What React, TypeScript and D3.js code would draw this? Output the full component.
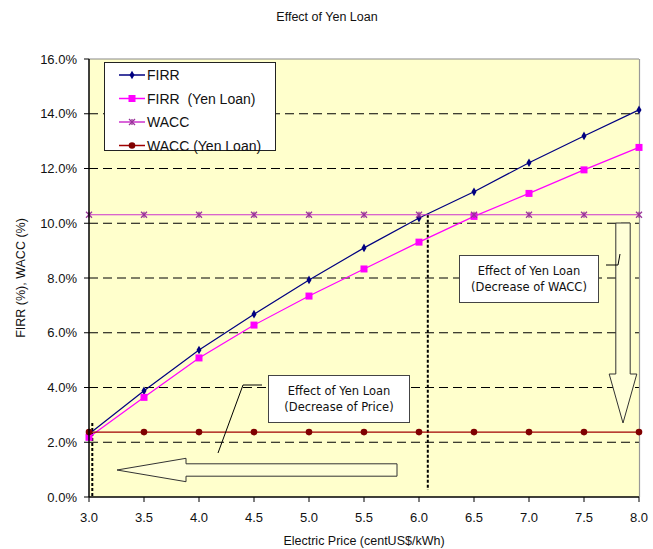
import React from "react";
import * as d3 from "d3";

const prices = [3.0, 3.5, 4.0, 4.5, 5.0, 5.5, 6.0, 6.5, 7.0, 7.5, 8.0];
const firr = [2.3, 3.88, 5.37, 6.68, 7.93, 9.1, 10.19, 11.15, 12.21, 13.19, 14.14];
const firrYen = [2.18, 3.64, 5.08, 6.28, 7.34, 8.33, 9.31, 10.25, 11.09, 11.95, 12.77];
const wacc = [10.31, 10.31, 10.31, 10.31, 10.31, 10.31, 10.31, 10.31, 10.31, 10.31, 10.31];
const waccYen = [2.37, 2.37, 2.37, 2.37, 2.37, 2.37, 2.37, 2.37, 2.37, 2.37, 2.37];
const yTicks = [0, 2, 4, 6, 8, 10, 12, 14, 16];
const xTicks = [3.0, 3.5, 4.0, 4.5, 5.0, 5.5, 6.0, 6.5, 7.0, 7.5, 8.0];
const seriesNames = ["FIRR", "FIRR  (Yen Loan)", "WACC", "WACC (Yen Loan)"];

// Break-even prices where FIRR meets WACC
const breakEvenYen = 3.03;
const breakEven = 6.08;

const W = 653;
const H = 549;
const left = 89;
const right = 639;
const top = 59;
const bottom = 497;
const FONT = "'Liberation Sans', Arial, sans-serif";
const NOTE_FONT = "'DejaVu Sans', sans-serif";

export default function App() {
  const x = d3.scaleLinear().domain([3, 8]).range([left, right]);
  const y = d3.scaleLinear().domain([0, 16]).range([bottom, top]);
  const line = d3
    .line<number>()
    .x((_, i) => x(prices[i]))
    .y((d) => y(d));

  const diamond = d3.symbol(d3.symbolDiamond, 22)()!;

  const marker = (kind: string, cx: number, cy: number, color: string, key: string) => {
    if (kind === "diamond")
      return <path key={key} d={diamond} transform={`translate(${cx},${cy})`} fill={color} />;
    if (kind === "square")
      return <rect key={key} x={cx - 3.5} y={cy - 3.5} width={7} height={7} fill={color} />;
    if (kind === "x")
      return (
        <g key={key} stroke={color} strokeWidth={1.3}>
          <line x1={cx - 3} y1={cy - 3} x2={cx + 3} y2={cy + 3} />
          <line x1={cx - 3} y1={cy + 3} x2={cx + 3} y2={cy - 3} />
          <line x1={cx} y1={cy - 3} x2={cx} y2={cy + 3} />
        </g>
      );
    return <circle key={key} cx={cx} cy={cy} r={3.3} fill={color} />;
  };

  const series = [
    { name: seriesNames[0], data: firr, color: "#000080", mcolor: "#000080", kind: "diamond" },
    { name: seriesNames[1], data: firrYen, color: "#FF00FF", mcolor: "#FF00FF", kind: "square" },
    { name: seriesNames[2], data: wacc, color: "#CC33CC", mcolor: "#993399", kind: "x" },
    { name: seriesNames[3], data: waccYen, color: "#A00000", mcolor: "#800000", kind: "circle" },
  ];

  // Left-pointing arrow (price decrease)
  const la = { tipX: 117, tipY: 470, headX: 186, headHalf: 11.7, shaftHalf: 6.2, endX: 397 };
  const leftArrow = [
    [la.tipX, la.tipY],
    [la.headX, la.tipY - la.headHalf],
    [la.headX, la.tipY - la.shaftHalf],
    [la.endX, la.tipY - la.shaftHalf],
    [la.endX, la.tipY + la.shaftHalf],
    [la.headX, la.tipY + la.shaftHalf],
    [la.headX, la.tipY + la.headHalf],
  ];
  // Downward arrow (WACC decrease)
  const da = { cx: 623, topY: 223, headY: 374, tipY: 423, shaftHalf: 7.2, headHalf: 13.8 };
  const downArrow = [
    [da.cx - da.shaftHalf, da.topY],
    [da.cx + da.shaftHalf, da.topY],
    [da.cx + da.shaftHalf, da.headY],
    [da.cx + da.headHalf, da.headY],
    [da.cx, da.tipY],
    [da.cx - da.headHalf, da.headY],
    [da.cx - da.shaftHalf, da.headY],
  ];
  const poly = (pts: number[][]) => pts.map((p) => p.join(",")).join(" ");

  return (
    <svg width={W} height={H} style={{ display: "block", position: "absolute", left: 0, top: 0 }} fontFamily={FONT}>
      <rect width={W} height={H} fill="#ffffff" />
      <text x={327} y={21} textAnchor="middle" fontSize={12.5} fill="#111">
        Effect of Yen Loan
      </text>

      {/* plot area */}
      <rect x={left} y={top} width={right - left} height={bottom - top} fill="#FFFFCC" />
      {yTicks.slice(1, -1).map((t) => (
        <line key={t} x1={left} x2={right} y1={y(t)} y2={y(t)} stroke="#000" strokeWidth={1} strokeDasharray="9,5" />
      ))}
      <line x1={left} x2={right} y1={top} y2={top} stroke="#888" strokeWidth={1} />
      <line x1={right + 0.5} x2={right + 0.5} y1={top} y2={bottom} stroke="#999" strokeWidth={1.2} />

      {/* break-even markers */}
      <line x1={x(breakEvenYen)} x2={x(breakEvenYen)} y1={423} y2={bottom} stroke="#000" strokeWidth={2} strokeDasharray="3,2" />
      <line x1={x(breakEven)} x2={x(breakEven)} y1={y(10.31)} y2={490} stroke="#000" strokeWidth={2} strokeDasharray="3,2" />

      {/* series */}
      {series.map((s) => (
        <g key={s.name}>
          <path d={line(s.data)!} fill="none" stroke={s.color} strokeWidth={1.2} />
          {s.data.map((v, i) => marker(s.kind, x(prices[i]), y(v), s.mcolor, `${s.name}-${i}`))}
        </g>
      ))}

      {/* arrows */}
      <polygon points={poly(leftArrow)} fill="#FFFFD8" stroke="#333" strokeWidth={1} />
      <polygon points={poly(downArrow)} fill="#FFFFD8" stroke="#333" strokeWidth={1} />

      {/* annotation callouts */}
      <g fontFamily={NOTE_FONT} fontSize={11.5} fill="#111">
        <polyline points="262,385 243,385 218,453" fill="none" stroke="#000" strokeWidth={1} />
        <rect x={268.5} y={375.5} width={141} height={47} fill="#fff" stroke="#444" strokeWidth={1} />
        <text x={339} y={395} textAnchor="middle">Effect of Yen Loan</text>
        <text x={339} y={411} textAnchor="middle">(Decrease of Price)</text>

        <polyline points="606,265 618,265 620,254" fill="none" stroke="#000" strokeWidth={1} />
        <rect x={459.5} y={255.5} width={139} height={47} fill="#fff" stroke="#444" strokeWidth={1} />
        <text x={529} y={275} textAnchor="middle">Effect of Yen Loan</text>
        <text x={529} y={291} textAnchor="middle">(Decrease of WACC)</text>
      </g>

      {/* axes */}
      <line x1={left} x2={left} y1={top} y2={bottom} stroke="#000" strokeWidth={1.5} />
      <line x1={left} x2={right} y1={bottom} y2={bottom} stroke="#000" strokeWidth={1.5} />
      {yTicks.map((t) => (
        <g key={t}>
          <line x1={left - 5} x2={left} y1={y(t)} y2={y(t)} stroke="#000" />
          <text x={77} y={y(t) + 4.5} textAnchor="end" fontSize={13} fill="#111">
            {d3.format(".1f")(t)}%
          </text>
        </g>
      ))}
      {xTicks.map((t) => (
        <g key={t}>
          <line x1={x(t)} x2={x(t)} y1={bottom} y2={bottom + 5} stroke="#000" />
          <text x={x(t)} y={522} textAnchor="middle" fontSize={13} fill="#111">
            {d3.format(".1f")(t)}
          </text>
        </g>
      ))}
      <text x={364} y={545} textAnchor="middle" fontSize={12.5} fill="#111">
        Electric Price (centUS$/kWh)
      </text>
      <text transform="translate(25,278) rotate(-90)" textAnchor="middle" fontSize={12.5} fill="#111">
        FIRR (%), WACC (%)
      </text>

      {/* legend */}
      <rect x={104.5} y={62.5} width={171} height={88} fill="#fff" stroke="#222" strokeWidth={1} />
      {series.map((s, i) => {
        const ly = 75 + i * 23.5;
        return (
          <g key={s.name}>
            <line x1={119} x2={145} y1={ly} y2={ly} stroke={s.color} strokeWidth={1.5} />
            {marker(s.kind, 132, ly, s.mcolor, `lg-${i}`)}
            <text x={147} y={ly + 5} fontSize={14} fill="#111" style={{ whiteSpace: "pre" }}>
              {s.name}
            </text>
          </g>
        );
      })}
    </svg>
  );
}
